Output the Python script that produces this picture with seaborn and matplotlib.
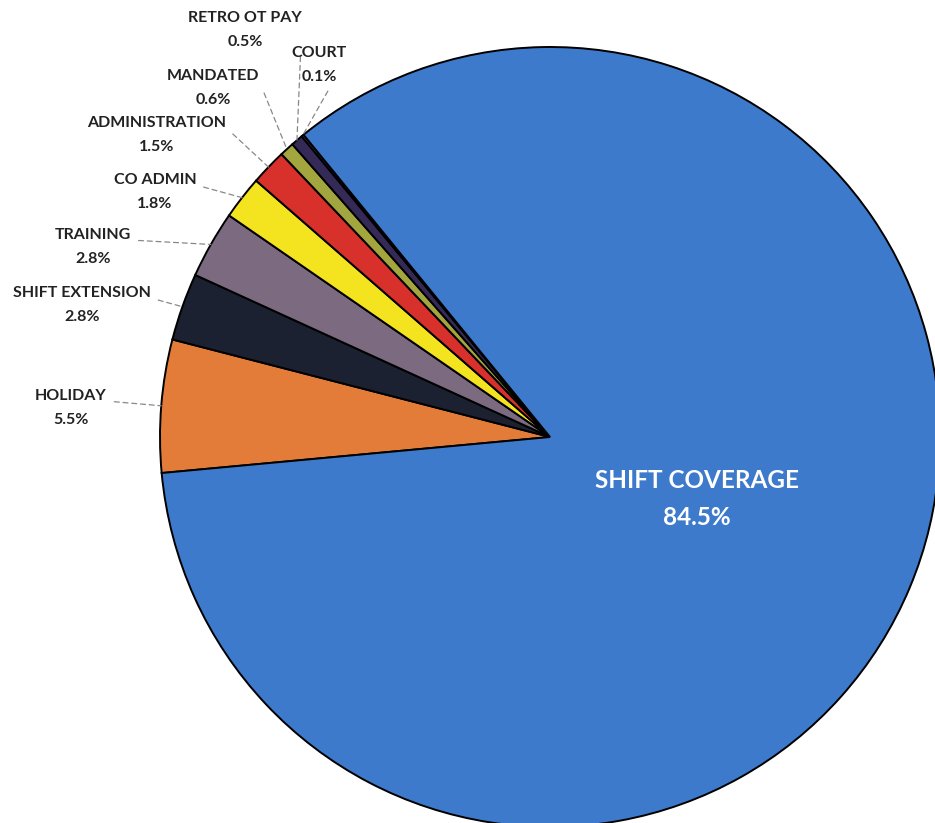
import numpy as np
import matplotlib
matplotlib.use("Agg")
import matplotlib.pyplot as plt
import seaborn as sns

# ---- data ----
categories = ["HOLIDAY", "SHIFT EXTENSION", "TRAINING", "CO ADMIN", "ADMINISTRATION",
              "MANDATED", "RETRO OT PAY", "COURT", "SHIFT COVERAGE"]
values = [5.5, 2.8, 2.8, 1.8, 1.5, 0.6, 0.5, 0.1, 84.5]
pct_labels = ["5.5%", "2.8%", "2.8%", "1.8%", "1.5%", "0.6%", "0.5%", "0.1%", "84.5%"]
hex_colors = ["#e27c38", "#1b2131", "#7c6b80", "#f4e41f", "#d8302a",
              "#a3a63e", "#352a57", "#5a4a8a", "#3d7acc"]

sns.set_theme(style="white")
plt.rcParams["font.family"] = ["Lato", "DejaVu Sans"]
palette = sns.color_palette(hex_colors)

W, H = 935, 823
fig = plt.figure(figsize=(W / 100, H / 100), dpi=100)
ax = fig.add_axes([0, 0, 1, 1])

cx, cy, R = 550, 437, 390  # pixel geometry of the pie


def px(x, y):
    return ((x - cx) / R, (cy - y) / R)


wedges, _ = ax.pie(values, colors=palette, startangle=185.3, counterclock=False,
                   radius=1.0, center=(0, 0),
                   wedgeprops=dict(edgecolor="black", linewidth=1.4))

ax.set_xlim(-cx / R, (W - cx) / R)
ax.set_ylim((cy - H) / R, cy / R)
ax.set_aspect("equal")
ax.axis("off")

# label text centers (pixel) for the small slices
label_pos = {
    "HOLIDAY": (71, 408),
    "SHIFT EXTENSION": (82, 305),
    "TRAINING": (93, 247),
    "CO ADMIN": (155, 192),
    "ADMINISTRATION": (157, 135),
    "MANDATED": (213, 88),
    "RETRO OT PAY": (245, 30),
    "COURT": (319, 65),
}

for w, cat, pl in zip(wedges, categories, pct_labels):
    mid = np.deg2rad((w.theta1 + w.theta2) / 2)
    edge = (np.cos(mid), np.sin(mid))
    if cat == "SHIFT COVERAGE":
        ax.text(*px(697, 499), f"{cat}\n{pl}", ha="center", va="center",
                color="white", fontsize=17.5, fontweight="bold", linespacing=1.75)
        continue
    tx, ty = px(*label_pos[cat])
    ax.annotate(f"{cat}\n{pl}", xy=edge, xytext=(tx, ty),
                ha="center", va="center", fontsize=11.5, fontweight="bold",
                color="#222222", linespacing=1.95,
                arrowprops=dict(arrowstyle="-", linestyle=(0, (4, 3)), color="#888888",
                                lw=0.9, relpos=(1.0, 0.68), shrinkA=3, shrinkB=0))

fig.savefig("out.png", dpi=100, facecolor="white")
